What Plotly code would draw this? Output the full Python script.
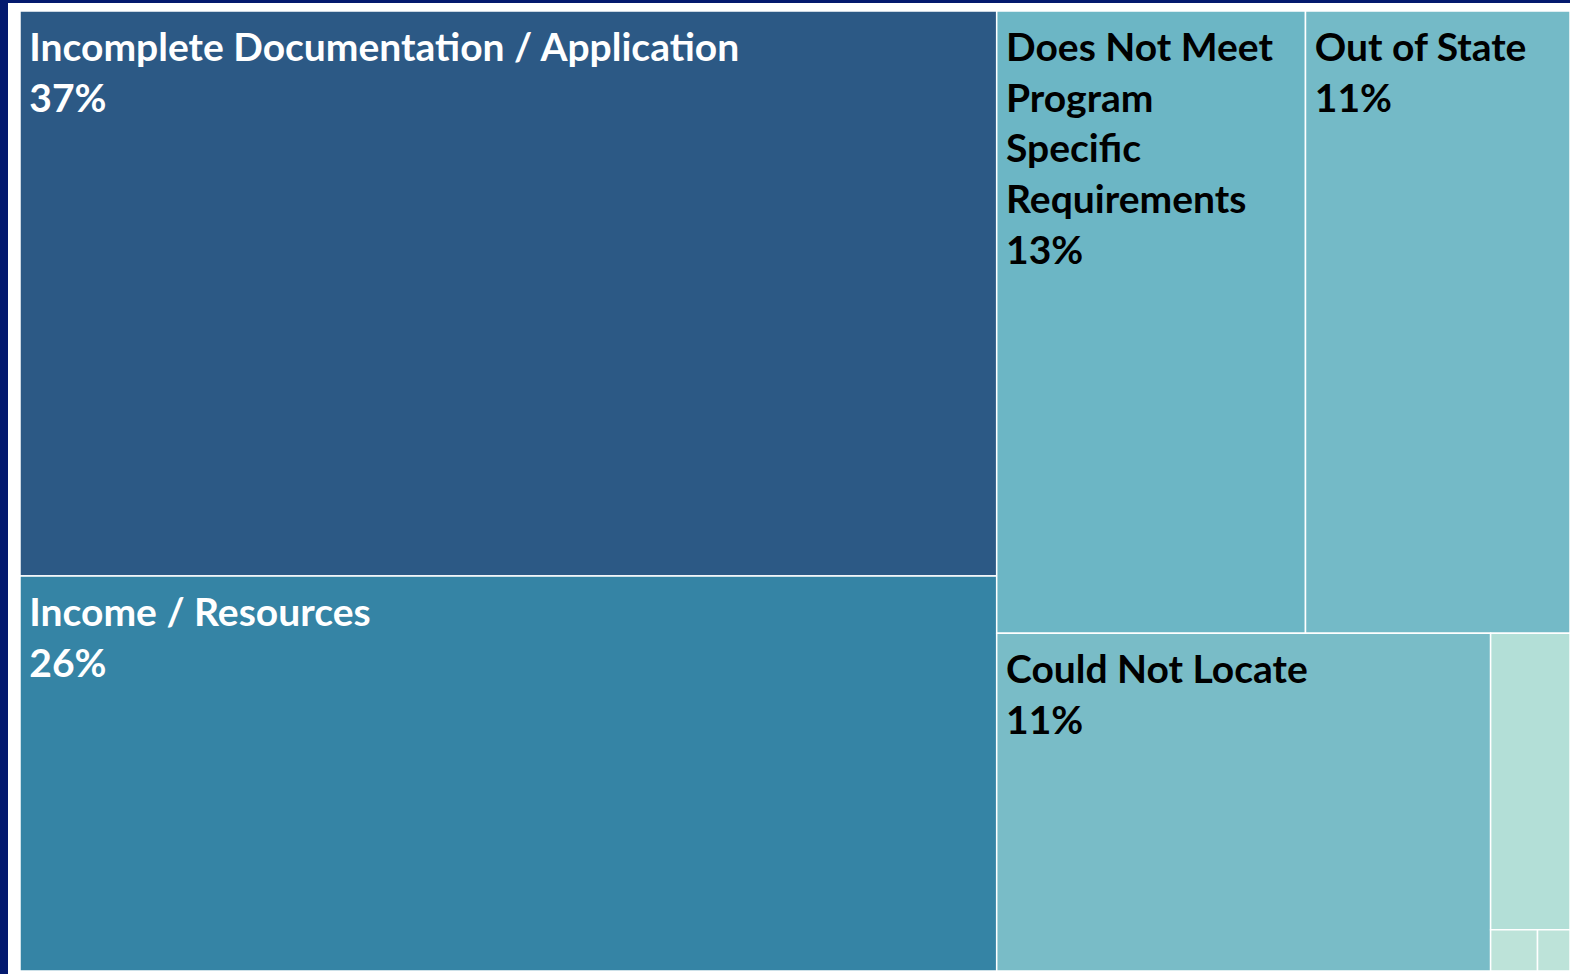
import plotly.graph_objects as go

# denial reasons, share of denials (%)
reasons = [
    "Incomplete Documentation / Application",
    "Income / Resources",
    "Does Not Meet Program Specific Requirements",
    "Out of State",
    "Could Not Locate",
    "Other 1",
    "Other 2",
    "Other 3",
]
shares = [37.05, 25.9, 12.9, 11.05, 11.2, 1.58, 0.13, 0.09]
# label lines as they are wrapped in the boxes
label_lines = [
    ["Incomplete Documentation / Application"],
    ["Income / Resources"],
    ["Does Not Meet", "Program", "Specific", "Requirements"],
    ["Out of State"],
    ["Could Not Locate"],
    [],
    [],
    [],
]
colors = ["#2c5985", "#3584a5", "#6cb6c5", "#74bac7", "#79bcc7", "#b3dfd7", "#bde3d9", "#bde3d9"]
text_colors = ["white", "white", "black", "black", "black", "black", "black", "black"]

# small left indent on every line, taller blank on the first line for top padding
indent = '<span style="font-size:26px">\u00a0</span>'
top_pad = '<span style="font-size:48px">\u00a0</span>'


def wrap(lines):
    if not lines:
        return ""
    out = [indent + s for s in lines]
    out[0] += top_pad
    return "<br>".join(out)


display_names = [wrap(lines) for lines in label_lines]
templates = ["%{text}<br>" + indent + "%{percentRoot:.0%}" if n else " " for n in display_names]

fig = go.Figure(go.Treemap(
    labels=reasons,
    parents=[""] * len(reasons),
    values=shares,
    text=display_names,
    texttemplate=templates,
    textposition="top left",
    textfont=dict(family="Lato", size=39, color=text_colors, weight="bold"),
    marker=dict(colors=colors, line=dict(color="white", width=1.5), pad=dict(t=0, l=0, r=0, b=0)),
    tiling=dict(packing="squarify", squarifyratio=2, pad=0),
    sort=False,
    pathbar=dict(visible=False),
    hoverinfo="label+percent root",
))

# navy frame along the left and top edges
fig.add_shape(type="rect", xref="paper", yref="paper",
              x0=-20 / 1550, x1=-12 / 1550, y0=-0.01, y1=1.02,
              fillcolor="#03196e", line_width=0, layer="below")
fig.add_shape(type="rect", xref="paper", yref="paper",
              x0=-0.02, x1=1.01, y0=1 + 8 / 960, y1=1 + 12 / 960,
              fillcolor="#03196e", line_width=0, layer="below")

fig.update_layout(
    width=1570, height=974,
    margin=dict(l=20, r=0, t=11, b=3),
    paper_bgcolor="white",
    showlegend=False,
)

fig.write_html("out.html", config={"displayModeBar": False},
               post_script="document.body.style.margin='0px';")
